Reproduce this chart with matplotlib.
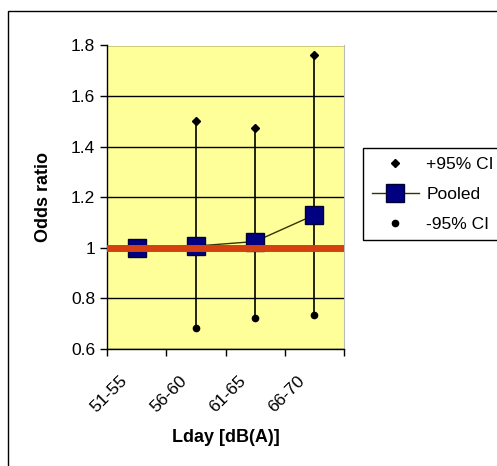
import numpy as np
import matplotlib
matplotlib.use('Agg')
import matplotlib.pyplot as plt
from matplotlib.patches import Rectangle
from matplotlib.transforms import ScaledTranslation

plt.rcParams['font.family'] = ['Liberation Sans', 'DejaVu Sans']

categories = ['51-55', '56-60', '61-65', '66-70']
pooled   = [1.00, 1.007, 1.025, 1.13]
upper_ci = [1.00, 1.50, 1.474, 1.764]
lower_ci = [1.00, 0.682, 0.723, 0.736]
reference = 1.0

W, H = 497, 466
fig = plt.figure(figsize=(W/100, H/100), dpi=100)
fig.patch.set_facecolor('white')

# chart area frame
fig.patches.append(Rectangle((8/W, -0.1), 1.2, 1 - 11/H + 0.1, transform=fig.transFigure,
                             fill=False, edgecolor='black', linewidth=1.0))

ax = fig.add_axes([107/W, 1 - 349/H, (344-107)/W, (349-45.5)/H])
ax.set_facecolor('#FFFF99')

x = np.arange(len(categories))

ax.set_ylim(0.6, 1.8)
ax.set_yticks(np.arange(0.6, 1.81, 0.2))
ax.set_yticklabels(['0.6', '0.8', '1', '1.2', '1.4', '1.6', '1.8'])
ax.yaxis.grid(True, color='black', linewidth=1.0)
ax.set_axisbelow(True)

ax.set_xlim(-0.5, len(categories) - 0.5)
ax.set_xticks(np.arange(-0.5, len(categories)), labels=[''] * (len(categories) + 1))
ax.set_xticks(x, labels=categories, minor=True)
ax.tick_params(axis='x', which='minor', length=0, pad=6, labelsize=12.5)
ax.tick_params(axis='both', which='major', length=5, width=1, color='black', labelsize=12.5)
shift = ScaledTranslation(-17/100, -16/100, fig.dpi_scale_trans)
for lbl in ax.get_xticklabels(minor=True):
    lbl.set_rotation(45)
    lbl.set_ha('right')
    lbl.set_va('top')
    lbl.set_rotation_mode('anchor')
    lbl.set_transform(lbl.get_transform() + shift)

ax.spines['top'].set_visible(False)
ax.spines['right'].set_color('#bbbbbb')
ax.spines['left'].set_linewidth(1.0)
ax.spines['bottom'].set_linewidth(1.0)

# confidence interval whiskers
for xi, lo, hi in zip(x, lower_ci, upper_ci):
    if hi > lo:
        ax.plot([xi, xi], [lo, hi], color='black', linewidth=1.2, zorder=3)

up_mask = np.array(upper_ci) != np.array(lower_ci)
ax.plot(x[up_mask], np.array(upper_ci)[up_mask], linestyle='none', marker='D',
        markersize=4.5, color='black', zorder=4, label='+95% CI')
ax.plot(x, pooled, color='#333300', linewidth=1.0, marker='s', markersize=13,
        markerfacecolor='#000080', markeredgecolor='#000033', zorder=5, label='Pooled')
ax.plot(x[up_mask], np.array(lower_ci)[up_mask], linestyle='none', marker='o',
        markersize=4.5, color='black', zorder=4, label='-95% CI')

ax.axhline(reference, color='#D4400F', linewidth=5, zorder=6)

ax.set_ylabel('Odds ratio', fontsize=13, fontweight='bold', va='center')
ax.yaxis.set_label_coords((44-107)/237, 0.5)
ax.set_xlabel('Lday [dB(A)]', fontsize=13, fontweight='bold', va='center')
ax.xaxis.set_label_coords(0.5, (349-437)/303.5)

leg = fig.legend(*ax.get_legend_handles_labels(), loc='upper left',
                 bbox_to_anchor=(363/W, 1 - 148/H), fancybox=False, framealpha=1,
                 edgecolor='black', fontsize=12.5, borderaxespad=0, handlelength=2.7,
                 handletextpad=0.45, borderpad=0.5, labelspacing=0.85)
leg.get_frame().set_linewidth(1.0)

fig.savefig('out.png', dpi=100)
